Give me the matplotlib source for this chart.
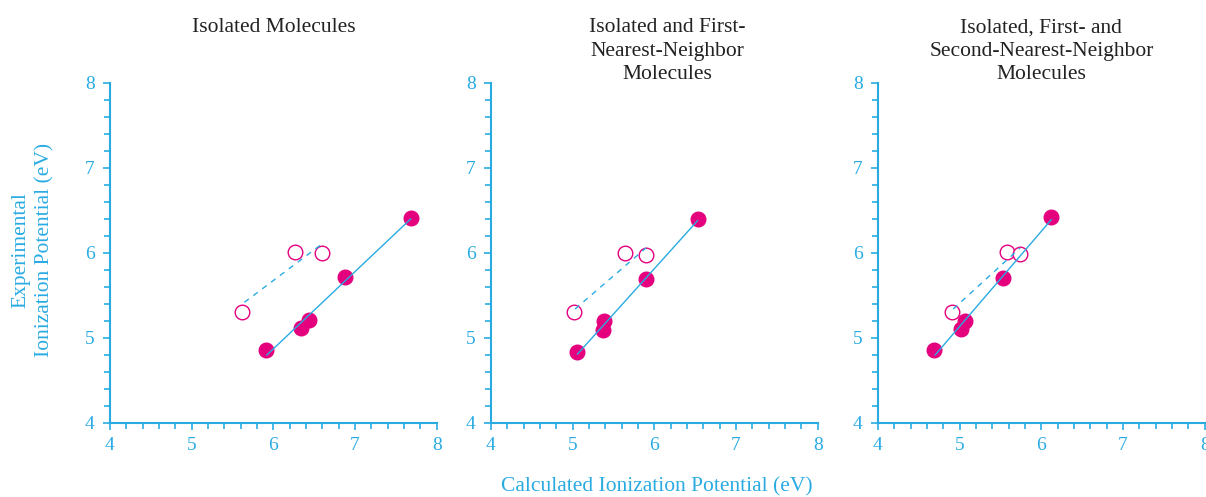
import numpy as np
import matplotlib
matplotlib.use('Agg')
import matplotlib.pyplot as plt
from matplotlib.ticker import MultipleLocator

# panel titles
titles = ["Isolated Molecules",
          "Isolated and First-\nNearest-Neighbor\nMolecules",
          "Isolated, First- and\nSecond-Nearest-Neighbor\nMolecules"]

# filled points (calculated, experimental)
calc_filled = [
    [5.91, 6.34, 6.43, 6.88, 7.68],
    [5.05, 5.37, 5.39, 5.90, 6.53],
    [4.69, 5.02, 5.07, 5.53, 6.12],
]
exp_filled = [
    [4.86, 5.12, 5.21, 5.72, 6.41],
    [4.84, 5.09, 5.20, 5.69, 6.40],
    [4.86, 5.11, 5.20, 5.70, 6.42],
]

# open points
calc_open = [
    [5.62, 6.26, 6.60],
    [5.02, 5.64, 5.90],
    [4.91, 5.58, 5.74],
]
exp_open = [
    [5.31, 6.01, 6.00],
    [5.30, 6.00, 5.98],
    [5.31, 6.01, 5.99],
]

# fit line end points
solid_x = [[5.92, 7.68], [5.06, 6.53], [4.70, 6.12]]
solid_y = [[4.80, 6.40], [4.81, 6.38], [4.80, 6.39]]
dash_x = [[5.645, 6.60], [5.03, 5.90], [4.92, 5.74]]
dash_y = [[5.42, 6.11], [5.34, 6.06], [5.34, 6.06]]

blue = '#29abe2'
pink = '#e5007e'
serif = 'Liberation Serif'

plt.rcParams['font.family'] = serif

fig = plt.figure(figsize=(12.06, 4.97), dpi=100)

lefts = [0.0912, 0.407, 0.728]
title_x = [0.5, 0.54, 0.5]
for i in range(3):
    ax = fig.add_axes([lefts[i], 0.149, 0.271, 0.684])
    ax.plot(solid_x[i], solid_y[i], color=blue, lw=1.0, zorder=4)
    ax.plot(dash_x[i], dash_y[i], color=blue, lw=1.0, ls=(0, (4, 4)), zorder=4)
    ax.plot(calc_filled[i], exp_filled[i], 'o', color=pink, ms=10.5, mec=pink, zorder=3)
    ax.plot(calc_open[i], exp_open[i], 'o', mfc='white', mec=pink, ms=10.5, mew=1.0, zorder=3)

    ax.set_xlim(4, 8)
    ax.set_ylim(4, 8)
    ax.xaxis.set_major_locator(MultipleLocator(1))
    ax.yaxis.set_major_locator(MultipleLocator(1))
    ax.xaxis.set_minor_locator(MultipleLocator(0.2))
    ax.yaxis.set_minor_locator(MultipleLocator(0.2))
    for s in ['top', 'right']:
        ax.spines[s].set_visible(False)
    for s in ['left', 'bottom']:
        ax.spines[s].set_color(blue)
        ax.spines[s].set_linewidth(1.5)
    ax.tick_params(which='both', direction='out', colors=blue, width=1.2)
    ax.tick_params(which='major', length=5, labelsize=14, labelcolor=blue)
    ax.tick_params(which='minor', length=4)
    ax.tick_params(axis='y', pad=6)
    ax.tick_params(axis='x', pad=5)
    ax.patch.set_alpha(0)
    ax.text(title_x[i], 1.19, titles[i], transform=ax.transAxes,
            ha='center', va='top', fontsize=15.5, color='#222222',
            linespacing=1.32)
    for lab in ax.get_xticklabels() + ax.get_yticklabels():
        lab.set_clip_on(False)

fig.text(0.0275, 0.497, "Experimental\nIonization Potential (eV)", rotation=90,
         ha='center', va='center', fontsize=15.5, color=blue, linespacing=1.32)
fig.text(0.545, 0.02, "Calculated Ionization Potential (eV)", ha='center',
         va='center', fontsize=15.5, color=blue)

fig.savefig("out.png", dpi=100)
